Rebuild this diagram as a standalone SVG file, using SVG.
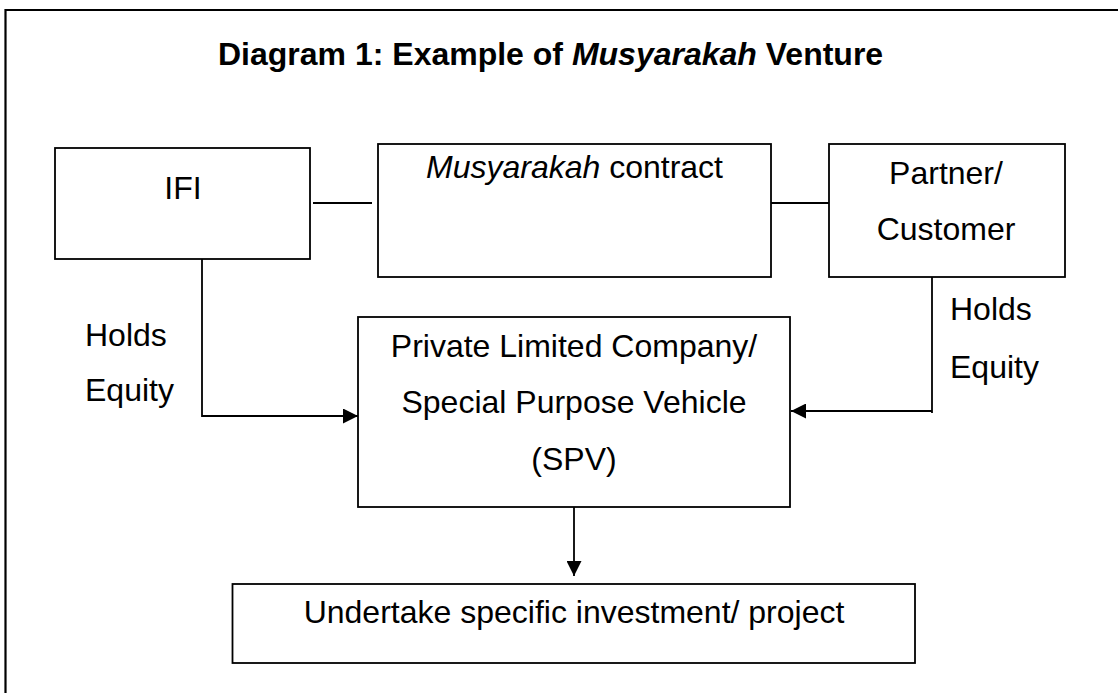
<svg xmlns="http://www.w3.org/2000/svg" width="1118" height="693" viewBox="0 0 1118 693">
<style>
  .frame { fill: none; stroke: #000; stroke-width: 2.2; }
  .box { fill: #fff; stroke: #000; stroke-width: 1.8; }
  .conn { fill: none; stroke: #000; stroke-width: 1.8; }
  .t { font-family: "Liberation Sans", Arial, sans-serif; font-size: 32px; fill: #000; }
  .title { font-family: "Liberation Sans", Arial, sans-serif; font-size: 32px; font-weight: bold; fill: #000; }
  .mid { text-anchor: middle; }
</style>
<defs>
  <marker id="arrow" viewBox="0 0 15 15" refX="15" refY="7.5" markerWidth="15" markerHeight="15" orient="auto" markerUnits="userSpaceOnUse">
    <path d="M0,0 L15,7.5 L0,15 z" fill="#000"/>
  </marker>
</defs>
<rect width="1118" height="693" fill="#fff"/>
<g id="frame">
  <path class="frame" d="M5.5,693 V10 H1118"/>
</g>
<g id="title">
  <text class="title" x="218" y="65">Diagram 1: Example of <tspan font-style="italic">Musyarakah</tspan> Venture</text>
</g>
<g id="connectors">
  <line class="conn" x1="313" y1="203" x2="372" y2="203"/>
  <line class="conn" x1="771" y1="203" x2="829" y2="203"/>
  <path class="conn" d="M202,259 V416 H358" marker-end="url(#arrow)"/>
  <path class="conn" d="M932,277 V413"/>
  <path class="conn" d="M932,411 H791" marker-end="url(#arrow)"/>
  <path class="conn" d="M574,507 V576" marker-end="url(#arrow)"/>
  <text class="t" x="85" y="346">Holds</text>
  <text class="t" x="85" y="401">Equity</text>
  <text class="t" x="950" y="320">Holds</text>
  <text class="t" x="950" y="378">Equity</text>
</g>
<g id="ifi">
  <rect class="box" x="55" y="148" width="255" height="111"/>
  <text class="t mid" x="183" y="199">IFI</text>
</g>
<g id="musyarakah-contract">
  <rect class="box" x="378" y="144" width="393" height="133"/>
  <text class="t mid" x="574.5" y="178"><tspan font-style="italic">Musyarakah</tspan> contract</text>
</g>
<g id="partner">
  <rect class="box" x="829" y="144" width="236" height="133"/>
  <text class="t mid" x="946" y="184">Partner/</text>
  <text class="t mid" x="946" y="240">Customer</text>
</g>
<g id="spv">
  <rect class="box" x="358" y="317" width="432" height="190"/>
  <text class="t mid" x="574" y="357">Private Limited Company/</text>
  <text class="t mid" x="574" y="413">Special Purpose Vehicle</text>
  <text class="t mid" x="574" y="470">(SPV)</text>
</g>
<g id="project">
  <rect class="box" x="232.5" y="584" width="682.5" height="79"/>
  <text class="t mid" x="574" y="623">Undertake specific investment/ project</text>
</g>
</svg>
